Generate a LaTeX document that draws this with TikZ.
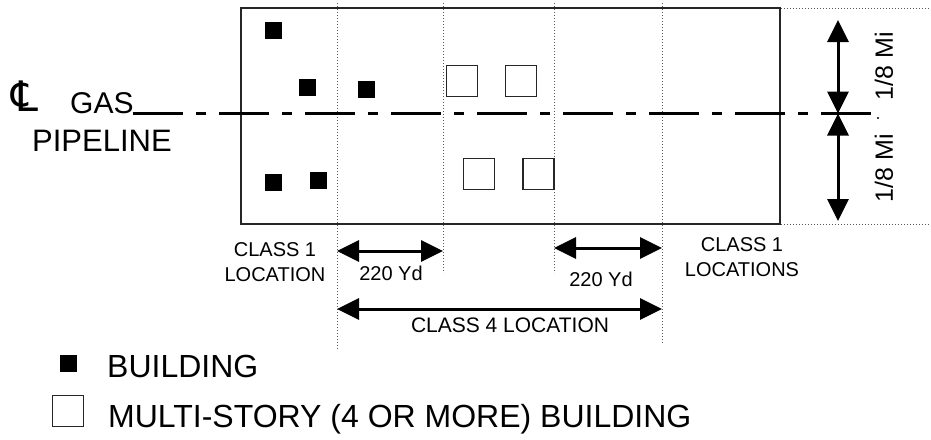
\documentclass[tikz,border=0pt]{standalone}
\usepackage{fontspec}
\setmainfont{Liberation Sans}
\newfontfamily\clfont{DejaVu Sans}
\usetikzlibrary{arrows.meta}

\tikzset{
  bldg/.style={fill=black, minimum size=17pt, inner sep=0pt},
  tallbldg/.style={draw=black!85, line width=1.2pt, fill=white,
    minimum size=31pt, inner sep=0pt},
  guide/.style={line width=0.9pt, black!65, dash pattern=on 0.9pt off 2.1pt},
  dimarrow/.style={line width=3pt,
    {Triangle[length=22pt,width=21pt]}-{Triangle[length=22pt,width=21pt]}},
  lbl/.style={inner sep=0pt},
}

\begin{document}
\begin{tikzpicture}[x=1pt, y=-1pt]
  \useasboundingbox (0,0) rectangle (931,439);

  % right-of-way strip
  \draw[line width=1.2pt, black!85] (241,8) rectangle (780,224);

  % dotted limits
  \draw[guide] (337,3) -- (337,349);
  \draw[guide] (443,3) -- (443,273);
  \draw[guide] (554,3) -- (554,273);
  \draw[guide] (662,3) -- (662,343);
  \draw[guide] (781,8) -- (930,8);
  \draw[guide] (781,224) -- (930,224);

  % pipeline centre line
  \coordinate (cl start) at (133,113.5);
  \coordinate (cl end) at (872,113.5);
  \draw[line width=3pt, dash pattern=on 50pt off 13pt on 10pt off 13pt]
    (cl start) -- (cl end);
  \fill (878,118) circle (1.2pt);

  \node[lbl, font=\clfont\fontsize{42}{42}\selectfont] (cl) at (24.5,96) {℄};
  \node[lbl, anchor=base west, font=\fontsize{30}{36}\selectfont] (gas)
    at (70,113) {GAS};
  \node[lbl, anchor=base west, font=\fontsize{31}{36}\selectfont] (pipeline)
    at (32,151) {PIPELINE};

  % buildings
  \node[bldg] (b1) at (273.5,30) {};
  \node[bldg] (b2) at (307,87.5) {};
  \node[bldg] (b3) at (366.5,89.5) {};
  \node[bldg] (b4) at (273.5,182) {};
  \node[bldg] (b5) at (318.5,180) {};

  \node[tallbldg] (t1) at (462,81) {};
  \node[tallbldg] (t2) at (521,81) {};
  \node[tallbldg] (t3) at (479,174) {};
  \node[tallbldg] (t4) at (538.5,174) {};

  % 1/8 Mi each side
  \coordinate (w top) at (838,20);
  \coordinate (w mid) at (838,113.5);
  \coordinate (w bot) at (838,221);
  \draw[dimarrow] (w top) -- (w mid);
  \draw[dimarrow] (w mid) -- (w bot);
  \node[lbl, rotate=90, font=\fontsize{25}{30}\selectfont] (mi top)
    at (884,66) {1/8 Mi};
  \node[lbl, rotate=90, font=\fontsize{25}{30}\selectfont] (mi bot)
    at (884,168) {1/8 Mi};

  % class locations
  \coordinate (c4 left) at (337,309);
  \coordinate (c4 right) at (662,309);
  \coordinate (yd1 left) at (337,251);
  \coordinate (yd1 right) at (443,251);
  \coordinate (yd2 left) at (554,248);
  \coordinate (yd2 right) at (662,248);
  \draw[dimarrow] (yd1 left) -- (yd1 right);
  \draw[dimarrow] (yd2 left) -- (yd2 right);
  \draw[dimarrow] (c4 left) -- (c4 right);

  \node[lbl, anchor=base, font=\fontsize{20}{24}\selectfont] (yd1)
    at (391,280) {220 Yd};
  \node[lbl, anchor=base, font=\fontsize{20}{24}\selectfont] (yd2)
    at (601,286) {220 Yd};
  \node[lbl, anchor=base, font=\fontsize{21}{24}\selectfont] (class4)
    at (510,332) {CLASS 4 LOCATION};
  \node[lbl, anchor=north, align=center, font=\fontsize{20}{25}\selectfont]
    (class1 left) at (275,242) {CLASS 1\\LOCATION};
  \node[lbl, anchor=north, align=center, font=\fontsize{20}{25}\selectfont]
    (class1 right) at (742,237) {CLASS 1\\LOCATIONS};

  % legend
  \node[bldg] (key bldg) at (68.5,363) {};
  \node[tallbldg] (key tall) at (68,411) {};
  \node[lbl, anchor=base west, font=\fontsize{32}{36}\selectfont] (key bldg text)
    at (107,377) {BUILDING};
  \node[lbl, anchor=base west, font=\fontsize{32}{36}\selectfont] (key tall text)
    at (108,427) {MULTI-STORY (4 OR MORE) BUILDING};
\end{tikzpicture}
\end{document}
